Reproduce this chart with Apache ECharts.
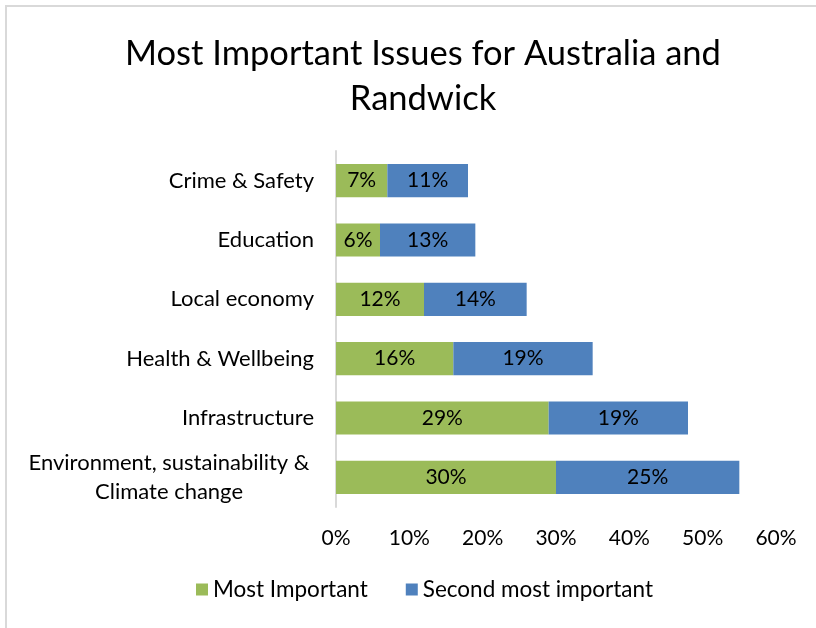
<!DOCTYPE html>
<html>
<head>
<meta charset="utf-8">
<script src="https://cdn.jsdelivr.net/npm/echarts@6/dist/echarts.min.js"></script>
<style>
html,body{margin:0;padding:0;background:#fff;}
#frame{position:absolute;left:5px;top:5px;width:811px;height:623px;border-left:2px solid #d9d9d9;border-top:2px solid #d9d9d9;box-sizing:border-box;}
#chart{position:absolute;left:0;top:0;width:816px;height:628px;}
</style>
</head>
<body>
<div id="frame"></div>
<div id="chart"></div>
<script>
const titleText = 'Most Important Issues for Australia and\nRandwick';
const categories = ['Environment, sustainability &\nClimate change', 'Infrastructure', 'Health & Wellbeing', 'Local economy', 'Education', 'Crime & Safety'];
const seriesNames = ['Most Important', 'Second most important'];
const mostImportant = [30, 29, 16, 12, 6, 7];
const secondMost = [25, 19, 19, 14, 13, 11];
const xTicks = [0, 10, 20, 30, 40, 50, 60];

const FONT = 'Lato';
const chart = echarts.init(document.getElementById('chart'));
chart.setOption({
  backgroundColor: 'transparent',
  animation: false,
  title: {
    text: titleText,
    left: 418,
    textAlign: 'center',
    top: 26,
    textStyle: {fontFamily: FONT, fontSize: 34.5, fontWeight: 'normal', color: '#000', lineHeight: 45}
  },
  legend: {
    bottom: 22,
    left: 191,
    itemWidth: 12, itemHeight: 12, itemGap: 38,
    icon: 'rect',
    textStyle: {fontFamily: FONT, fontSize: 22.5, color: '#000'},
    data: seriesNames
  },
  grid: {left: 336, right: 40, top: 151, bottom: 121, containLabel: false},
  xAxis: {
    type: 'value', min: xTicks[0], max: xTicks[xTicks.length - 1], interval: 10,
    axisLine: {show: false}, axisTick: {show: false}, splitLine: {show: false},
    axisLabel: {formatter: v => v + '%', fontFamily: FONT, fontSize: 21, color: '#000', margin: 21}
  },
  yAxis: {
    type: 'category',
    data: categories.map((c, i) => i === 0 ? {value: c, textStyle: {align: 'center', padding: [0, 290, 0, 0]}} : c),
    axisLine: {show: true, lineStyle: {color: '#d9d9d9', width: 2}},
    axisTick: {show: false},
    axisLabel: {fontFamily: FONT, fontSize: 22, color: '#000', margin: 22, lineHeight: 29}
  },
  series: [
    {name: seriesNames[0], type: 'bar', stack: 'a', data: mostImportant, barWidth: '56%',
     itemStyle: {color: '#9BBB59'},
     label: {show: true, position: 'inside', formatter: p => p.value + '%', fontFamily: FONT, fontSize: 21, color: '#000'}},
    {name: seriesNames[1], type: 'bar', stack: 'a', data: secondMost, barWidth: '56%',
     itemStyle: {color: '#4F81BD'},
     label: {show: true, position: 'inside', formatter: p => p.value + '%', fontFamily: FONT, fontSize: 21, color: '#000'}}
  ]
});
</script>
</body>
</html>
